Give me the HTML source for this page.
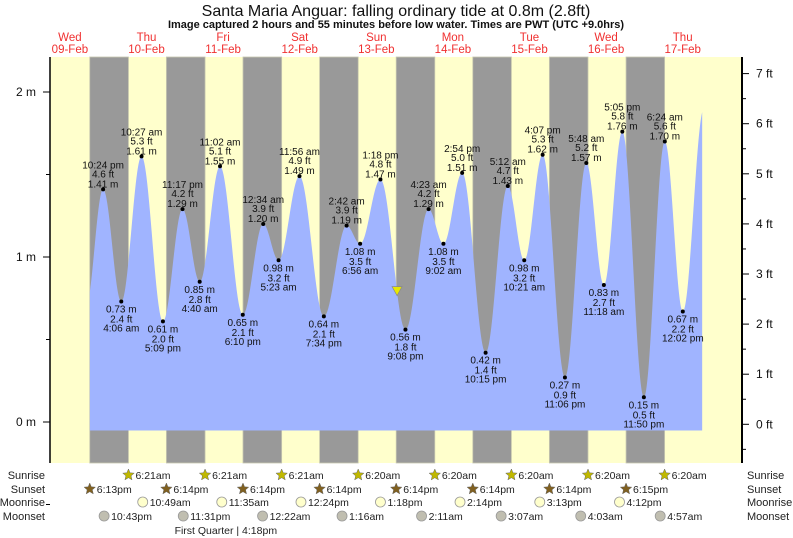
<!DOCTYPE html>
<html><head><meta charset="utf-8"><style>
body{margin:0;background:#fff;}
svg{display:block;font-family:"Liberation Sans",sans-serif;}
</style></head><body>
<svg id="chart" width="793" height="538" viewBox="0 0 793 538" xmlns="http://www.w3.org/2000/svg">
<text x="396" y="16" font-size="16" text-anchor="middle" fill="#111">Santa Maria Anguar: falling  ordinary tide at 0.8m (2.8ft)</text>
<text x="396" y="28" font-size="11" font-weight="bold" text-anchor="middle" fill="#111">Image captured 2 hours and 55 minutes before low water. Times are PWT (UTC +9.0hrs)</text>
<g id="days"></g>
<g id="bands"></g>
<g id="tide"></g>
<g id="labels"></g>
<g id="axes"></g>
<g id="astro"></g>
</svg>
<script>
// ---- data (hours relative to Thu 10-Feb 00:00) ----
const dayNames = ["Wed","Thu","Fri","Sat","Sun","Mon","Tue","Wed","Thu"];
const dayDates = ["09-Feb","10-Feb","11-Feb","12-Feb","13-Feb","14-Feb","15-Feb","16-Feb","17-Feb"];
const extremaHours = [-1.6,4.1,10.45,17.15,23.283,28.667,35.033,42.167,48.567,53.383,59.933,67.567,74.7,78.933,85.3,93.133,100.383,105.033,110.9,118.25,125.2,130.35,136.117,143.1,149.8,155.3,161.083,167.833,174.4,180.033];
const extremaMeters = [1.41,0.73,1.61,0.61,1.29,0.85,1.55,0.65,1.20,0.98,1.49,0.64,1.19,1.08,1.47,0.56,1.29,1.08,1.51,0.42,1.43,0.98,1.62,0.27,1.57,0.83,1.76,0.15,1.70,0.67];
const extremaFeet = ["4.6","2.4","5.3","2.0","4.2","2.8","5.1","2.1","3.9","3.2","4.9","2.1","3.9","3.5","4.8","1.8","4.2","3.5","5.0","1.4","4.7","3.2","5.3","0.9","5.2","2.7","5.8","0.5","5.6","2.2"];
const extremaTimes = ["10:24 pm","4:06 am","10:27 am","5:09 pm","11:17 pm","4:40 am","11:02 am","6:10 pm","12:34 am","5:23 am","11:56 am","7:34 pm","2:42 am","6:56 am","1:18 pm","9:08 pm","4:23 am","9:02 am","2:54 pm","10:15 pm","5:12 am","10:21 am","4:07 pm","11:06 pm","5:48 am","11:18 am","5:05 pm","11:50 pm","6:24 am","12:02 pm"];
const edgeBefore = [-7.0,0.70];
const edgeAfter = [186.67,1.90];
const dataStart = -5.75, dataEnd = 186.1;
const nowHour = 90.5, nowLevel = 0.79;
const sunriseHours = [6.35,30.35,54.35,78.333,102.333,126.333,150.333,174.333];
const sunriseText = ["6:21am","6:21am","6:21am","6:20am","6:20am","6:20am","6:20am","6:20am"];
const sunsetHours = [-5.783,18.233,42.233,66.233,90.233,114.233,138.233,162.25];
const sunsetText = ["6:13pm","6:14pm","6:14pm","6:14pm","6:14pm","6:14pm","6:14pm","6:15pm"];
const moonriseHours = [10.817,35.583,60.4,85.3,110.233,135.217,160.2];
const moonriseText = ["10:49am","11:35am","12:24pm","1:18pm","2:14pm","3:13pm","4:12pm"];
const moonsetHours = [-1.283,23.517,48.367,73.267,98.183,123.117,148.05,172.95];
const moonsetText = ["10:43pm","11:31pm","12:22am","1:16am","2:11am","3:07am","4:03am","4:57am"];
const phaseHour = 40.3, phaseText = "First Quarter | 4:18pm";
const mTicks = [0,1,2];
const ftTicks = [0,1,2,3,4,5,6,7];

// ---- scales ----
const PX0=50, PX1=742, PY0=57, PY1=463;
const X0=108.2, PXH=76.6/24;
const x = h => X0 + h*PXH;
const ym = m => 422 - m*165;
const yft = f => 424.3 - f*50.1;
const NS="http://www.w3.org/2000/svg";
function mk(tag, attrs, parent, txt){const e=document.createElementNS(NS,tag);for(const k in attrs)e.setAttribute(k,attrs[k]);if(txt!==undefined)e.textContent=txt;parent.appendChild(e);return e;}
const G = id => document.getElementById(id);

// day headers
dayNames.forEach((d,i)=>{
  const cx = x(-12 + i*24);
  const t1 = mk('text',{x:cx,y:41,'font-size':11.5,'text-anchor':'middle',fill:'#f03030'},G('days'),d);
  
  
  const t2 = mk('text',{x:cx,y:53,'font-size':11.5,'text-anchor':'middle',fill:'#f03030'},G('days'),dayDates[i]);
  
  
});

// background + night bands
const bg = mk('rect',{x:PX0,y:PY0,width:PX1-PX0,height:PY1-PY0,fill:'#ffffcc'},G('bands'));


sunsetHours.forEach((s,i)=>{
  const e = sunriseHours[i];
  const r = mk('rect',{x:x(s),y:PY0,width:x(e)-x(s),height:PY1-PY0,fill:'#999999',stroke:'#c8c8b0','stroke-width':0.8},G('bands'));
  
  
});

// tide curve
const ptsH=[edgeBefore[0],...extremaHours,edgeAfter[0]];
const ptsM=[edgeBefore[1],...extremaMeters,edgeAfter[1]];
function level(h){
  for(let i=0;i<ptsH.length-1;i++){
    if(h>=ptsH[i]&&h<=ptsH[i+1]){
      const f=(h-ptsH[i])/(ptsH[i+1]-ptsH[i]);
      return ptsM[i]+(ptsM[i+1]-ptsM[i])*(1-Math.cos(Math.PI*f))/2;
    }
  }
  return ptsM[ptsM.length-1];
}
const base = 430.5;
let d = `M${x(dataStart)},${base}`;
for(let h=dataStart;h<=dataEnd;h+=0.1){ d+=` L${x(h).toFixed(2)},${ym(level(h)).toFixed(2)}`; }
d+=` L${x(dataEnd)},${ym(level(dataEnd))} L${x(dataEnd)},${base} Z`;
const area = mk('path',{d:d,fill:'#a0b4ff'},G('tide'));



// extrema labels
extremaHours.forEach((h,i)=>{
  const px=x(h), py=ym(extremaMeters[i]);
  const dot = mk('circle',{cx:px,cy:py,r:2,fill:'#000'},G('labels'));
  
  
  const high = (i===0) ? extremaMeters[0]>extremaMeters[1] : extremaMeters[i]>extremaMeters[i-1];
  const lines = high ? [extremaTimes[i], extremaFeet[i]+' ft', extremaMeters[i].toFixed(2)+' m'] : [extremaMeters[i].toFixed(2)+' m', extremaFeet[i]+' ft', extremaTimes[i]];
  const offs = high ? [-21,-12,-2] : [11,21,30];
  lines.forEach((s,j)=>{
    const t = mk('text',{x:px,y:py+offs[j],'font-size':10,'text-anchor':'middle',fill:'#111'},G('labels'),s);
    
    
  });
});
// now marker
const nm = mk('path',{d:`M${x(nowHour)-5},${ym(nowLevel)-5} L${x(nowHour)+5},${ym(nowLevel)-5} L${x(nowHour)},${ym(nowLevel)+4} Z`,fill:'#e8e800',stroke:'#888','stroke-width':0.7},G('labels'));



// axes
const la = mk('line',{x1:PX0,y1:PY0,x2:PX0,y2:PY1,stroke:'#000','stroke-width':1.5},G('axes'));


const ra = mk('line',{x1:PX1,y1:PY0,x2:PX1,y2:PY1,stroke:'#000','stroke-width':2},G('axes'));


for(let m=-0.5;m<=2.2;m+=0.5){
  const major = mTicks.includes(m);
  const tk = mk('line',{x1:major?43:46,y1:ym(m),x2:PX0,y2:ym(m),stroke:'#000','stroke-width':1},G('axes'));
  
  
}
mTicks.forEach(m=>{
  const t = mk('text',{x:36,y:ym(m)+4,'font-size':12,'text-anchor':'end',fill:'#111'},G('axes'),m+' m');
  
  
});
for(let f=-0.5;f<=7.5;f+=0.5){
  if(yft(f)<PY0||yft(f)>PY1) continue;
  const major = ftTicks.includes(f);
  const tk = mk('line',{x1:PX1,y1:yft(f),x2:major?749:746,y2:yft(f),stroke:'#000','stroke-width':1},G('axes'));
  
  
}
ftTicks.forEach(f=>{
  const t = mk('text',{x:756,y:yft(f)+4,'font-size':12,fill:'#111'},G('axes'),f+' ft');
  
  
});

// astro rows
const rows=[["Sunrise",475],["Sunset",489],["Moonrise",502],["Moonset",516]];
rows.forEach(([n,y])=>{
  const a = mk('text',{x:45,y:y+4,'font-size':11,'text-anchor':'end',fill:'#222'},G('astro'),n);
  
  
  const b = mk('text',{x:747,y:y+4,'font-size':11,fill:'#222'},G('astro'),n);
  
  
});
function star(cx,cy,r,fill){
  let p='';for(let k=0;k<10;k++){const rr=k%2?r*0.45:r;const a=-Math.PI/2+k*Math.PI/5;p+=(k?'L':'M')+(cx+rr*Math.cos(a)).toFixed(2)+','+(cy+rr*Math.sin(a)).toFixed(2);}
  return mk('path',{d:p+'Z',fill:fill,stroke:'#666','stroke-width':0.5},G('astro'));
}
sunriseHours.forEach((h,i)=>{
  const s = star(x(h),475,6,'#c0b800');
  
  
  const t = mk('text',{x:x(h)+7,y:479,'font-size':10.5,fill:'#222'},G('astro'),sunriseText[i]);
  
  
});
sunsetHours.forEach((h,i)=>{
  const s = star(x(h),489,6,'#806020');
  
  
  const t = mk('text',{x:x(h)+7,y:493,'font-size':10.5,fill:'#222'},G('astro'),sunsetText[i]);
  
  
});
moonriseHours.forEach((h,i)=>{
  const c = mk('circle',{cx:x(h),cy:502,r:5,fill:'#ffffcc',stroke:'#999','stroke-width':0.8},G('astro'));
  
  
  const t = mk('text',{x:x(h)+7,y:506,'font-size':10.5,fill:'#222'},G('astro'),moonriseText[i]);
  
  
});
moonsetHours.forEach((h,i)=>{
  const c = mk('circle',{cx:x(h),cy:516,r:5,fill:'#c0beb0',stroke:'#999','stroke-width':0.8},G('astro'));
  
  
  const t = mk('text',{x:x(h)+7,y:520,'font-size':10.5,fill:'#222'},G('astro'),moonsetText[i]);
  
  
});
const ph = mk('text',{x:x(phaseHour)-11,y:534,'font-size':10.5,'text-anchor':'middle',fill:'#222'},G('astro'),phaseText);


</script>
</body></html>
